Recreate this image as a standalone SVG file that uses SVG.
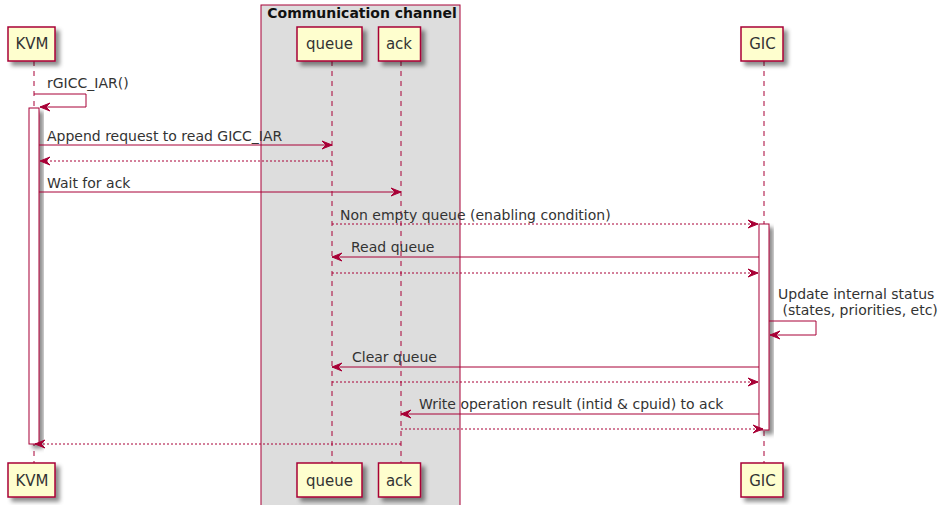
<svg xmlns="http://www.w3.org/2000/svg" width="939" height="505" viewBox="0 0 939 505">
  <defs>
    <filter id="shadow" x="-50%" y="-50%" width="200%" height="200%">
      <feGaussianBlur in="SourceAlpha" stdDeviation="2"/>
      <feColorMatrix type="matrix" values="0 0 0 0 0  0 0 0 0 0  0 0 0 0 0  0 0 0 0.45 0"/>
      <feOffset dx="4" dy="4" result="shade"/>
      <feMerge><feMergeNode in="shade"/><feMergeNode in="SourceGraphic"/></feMerge>
    </filter>
    <marker id="head" viewBox="-1 -1 12 10" refX="10" refY="4" markerWidth="12" markerHeight="10" markerUnits="userSpaceOnUse" orient="auto">
      <path d="M0,0 L10,4 L0,8 L4,4 Z" fill="#A80036" stroke="#A80036" stroke-width="1" stroke-linejoin="miter"/>
    </marker>
  </defs>
  <style>
    text { font-family: "DejaVu Sans", "Liberation Sans", sans-serif; font-size: 14px; fill: #333; }
    .title { font-weight: bold; font-size: 14px; fill: #111; }
    .mid { text-anchor: middle; }
    .pname { font-size: 15px; }
    .part { fill: #FEFECE; stroke: #A80036; stroke-width: 1.5; filter: url(#shadow); }
    .life { stroke: #A80036; stroke-width: 1; stroke-dasharray: 5,5; fill: none; }
    .act { fill: #FFFFFF; stroke: #A80036; stroke-width: 1; filter: url(#shadow); }
    .msg { stroke: #A80036; stroke-width: 1; fill: none; marker-end: url(#head); }
    .ret { stroke: #A80036; stroke-width: 1; fill: none; stroke-dasharray: 2,2; marker-end: url(#head); }
  </style>

  <!-- grouping box -->
  <g id="box-channel">
    <rect x="261" y="5" width="199" height="520" fill="#DDDDDD" stroke="#A80036" stroke-width="1"/>
    <text class="title mid" x="362" y="18">Communication channel</text>
  </g>

  <!-- lifelines -->
  <g id="lifelines">
    <line class="life" x1="34" y1="61" x2="34" y2="463"/>
    <line class="life" x1="332" y1="61" x2="332" y2="463"/>
    <line class="life" x1="401" y1="61" x2="401" y2="463"/>
    <line class="life" x1="764" y1="61" x2="764" y2="463"/>
  </g>

  <!-- activations -->
  <g id="activations">
    <rect class="act" x="29" y="108" width="10" height="336"/>
    <rect class="act" x="759" y="224" width="10" height="206"/>
  </g>

  <!-- participants -->
  <g id="KVM">
    <rect class="part" x="8" y="27" width="47" height="34"/>
    <text class="mid pname" x="32" y="48.5">KVM</text>
    <rect class="part" x="8" y="463" width="47" height="34"/>
    <text class="mid pname" x="32" y="485.5">KVM</text>
  </g>
  <g id="queue">
    <rect class="part" x="297" y="27" width="65" height="34"/>
    <text class="mid pname" x="329.5" y="48.5">queue</text>
    <rect class="part" x="297" y="463" width="65" height="34"/>
    <text class="mid pname" x="329.5" y="485.5">queue</text>
  </g>
  <g id="ack">
    <rect class="part" x="378.5" y="27" width="42" height="34"/>
    <text class="mid pname" x="399" y="48.5">ack</text>
    <rect class="part" x="378.5" y="463" width="42" height="34"/>
    <text class="mid pname" x="399" y="485.5">ack</text>
  </g>
  <g id="GIC">
    <rect class="part" x="741" y="27" width="42" height="34"/>
    <text class="mid pname" x="762.5" y="48.5">GIC</text>
    <rect class="part" x="741" y="463" width="42" height="34"/>
    <text class="mid pname" x="762.5" y="485.5">GIC</text>
  </g>

  <!-- messages -->
  <g id="connectors">
    <polyline class="msg" points="34,94 86,94 86,107 40,107"/>
    <line class="msg" x1="39" y1="145" x2="332" y2="145"/>
    <line class="ret" x1="332" y1="161" x2="40" y2="161"/>
    <line class="msg" x1="39" y1="192" x2="401" y2="192"/>
    <line class="ret" x1="332" y1="224" x2="758" y2="224"/>
    <line class="msg" x1="759" y1="257" x2="332" y2="257"/>
    <line class="ret" x1="332" y1="273" x2="758" y2="273"/>
    <polyline class="msg" points="769,321 816,321 816,335 770,335"/>
    <line class="msg" x1="759" y1="367" x2="332" y2="367"/>
    <line class="ret" x1="332" y1="382" x2="758" y2="382"/>
    <line class="msg" x1="759" y1="414" x2="401" y2="414"/>
    <line class="ret" x1="401" y1="429" x2="763" y2="429"/>
    <line class="ret" x1="401" y1="444" x2="35" y2="444"/>
  </g>

  <!-- message labels -->
  <g id="labels">
    <text x="47" y="87.5">rGICC_IAR()</text>
    <text x="47" y="140.5">Append request to read GICC_IAR</text>
    <text x="47" y="187.5">Wait for ack</text>
    <text x="340" y="219.5">Non empty queue (enabling condition)</text>
    <text x="351" y="252">Read queue</text>
    <text x="778" y="298.5">Update internal status</text>
    <text x="782.5" y="315">(states, priorities, etc)</text>
    <text x="352" y="361.5">Clear queue</text>
    <text x="419" y="409">Write operation result (intid &amp; cpuid) to ack</text>
  </g>
</svg>
